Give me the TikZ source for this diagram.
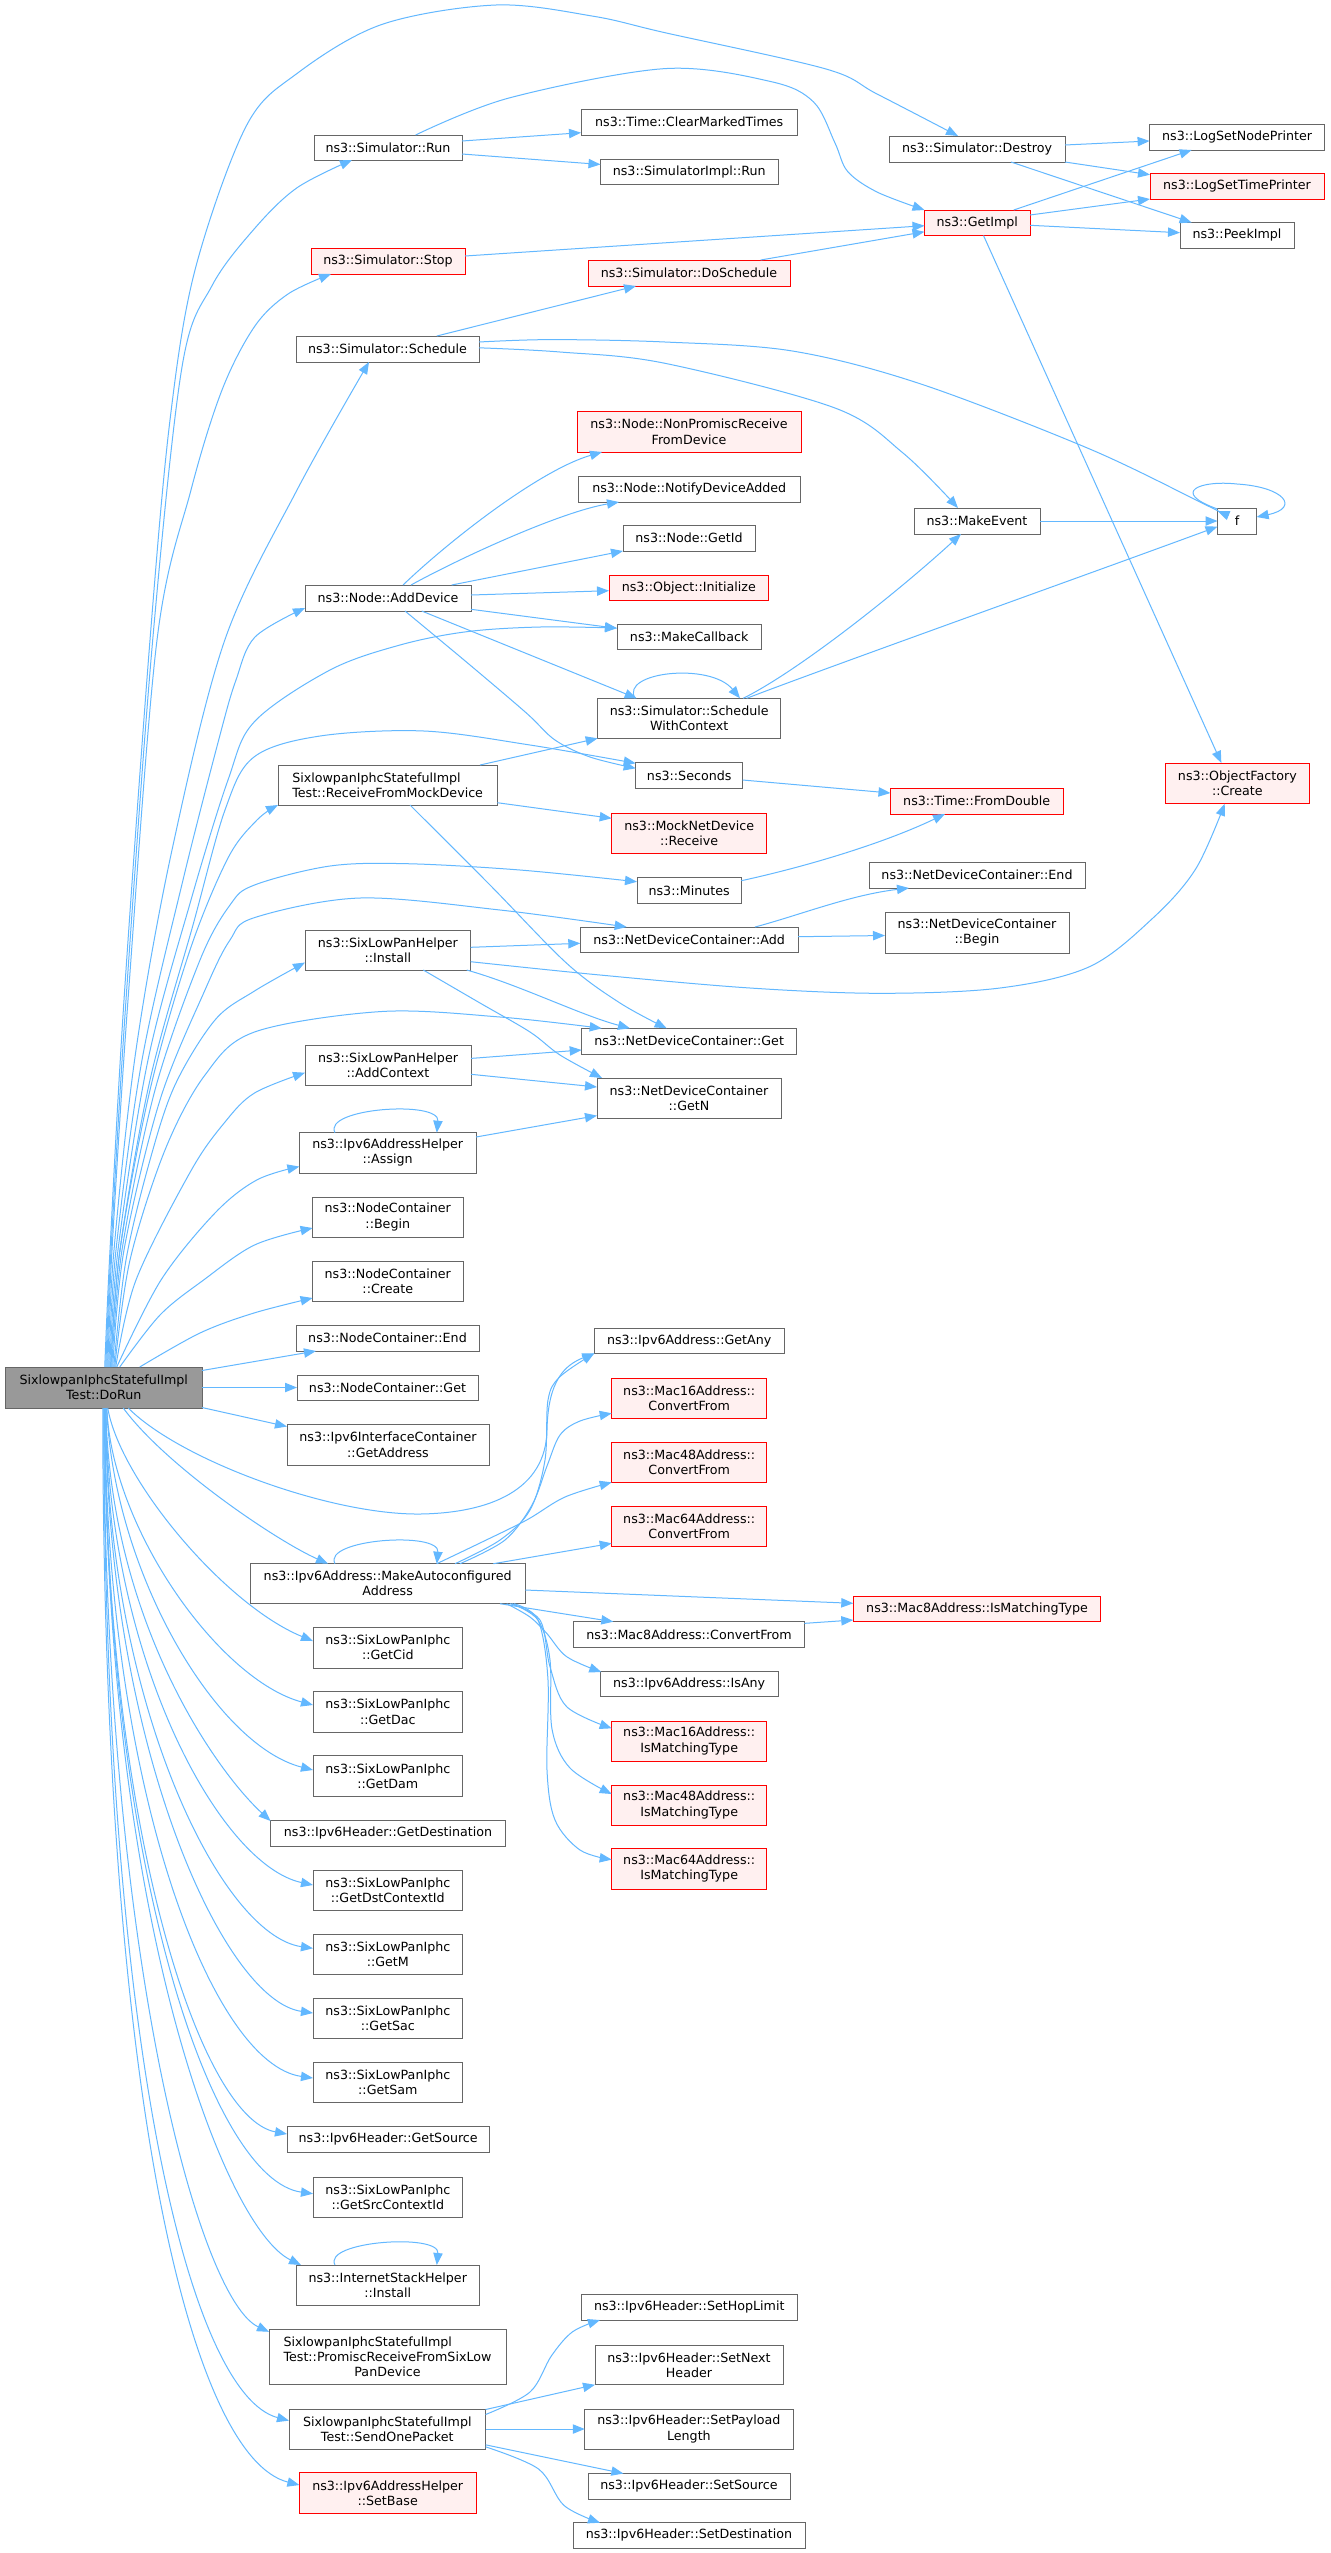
\documentclass[tikz,border=0pt]{standalone}
\usepackage{fontspec}
\setmainfont{DejaVu Sans}
\usepackage{calc}
\usetikzlibrary{arrows.meta,calc}
\definecolor{edgeblue}{HTML}{63B8FF}
\definecolor{boxgrey}{HTML}{666666}
\definecolor{redfill}{HTML}{FFF0F0}
\definecolor{rootfill}{HTML}{999999}
\tikzset{
 box/.style={draw=boxgrey, fill=white, line width=0.75pt, inner sep=0pt, outer sep=0pt, align=center, font=\fontsize{9.5}{11.3}\selectfont},
 redbox/.style={draw=red, fill=redfill},
 rootbox/.style={fill=rootfill},
 edge/.style={draw=edgeblue, line width=0.75pt, -{Triangle[length=9pt,width=7pt]}},
}
\newcommand\mkbox[7][]{%
 \pgfmathsetmacro\cxx{(#3+#5)/2}\pgfmathsetmacro\cyy{(#4+#6)/2}%
 \pgfmathsetmacro\www{(#5-#3)*0.75}\pgfmathsetmacro\hhh{(#6-#4)*0.75}%
 \node[box,#1,minimum width=\www pt,minimum height=\hhh pt] (#2) at (\cxx,\cyy) {#7};}
\begin{document}
\begin{tikzpicture}[x=0.75pt,y=-0.75pt]
\useasboundingbox (0,0) rectangle (1331,2553);
\fill[white] (0,0) rectangle (1331,2553);
% ---------------- nodes
\mkbox[rootbox]{dorun}{5.5}{1367}{202}{1408}{SixlowpanIphcStatefulImpl\\Test::DoRun}
\mkbox{destroy}{889}{136}{1065}{162}{ns3::Simulator::Destroy}
\mkbox{run}{314}{135}{462}{160}{ns3::Simulator::Run}
\mkbox{clear}{581}{109}{797.5}{135}{ns3::Time::ClearMarkedTimes}
\mkbox{simimplrun}{600.5}{159}{778}{184.5}{ns3::SimulatorImpl::Run}
\mkbox[redbox]{getimpl}{924.5}{210}{1030}{235.5}{ns3::GetImpl}
\mkbox{lognode}{1149.6}{124.5}{1324.6}{150}{ns3::LogSetNodePrinter}
\mkbox[redbox]{logtime}{1150}{173.5}{1324}{199}{ns3::LogSetTimePrinter}
\mkbox{peek}{1180}{222.5}{1294}{248}{ns3::PeekImpl}
\mkbox[redbox]{stop}{311}{248}{465}{274}{ns3::Simulator::Stop}
\mkbox[redbox]{dosched}{588}{260}{790}{286}{ns3::Simulator::DoSchedule}
\mkbox{sched}{296}{336}{479}{362}{ns3::Simulator::Schedule}
\mkbox[redbox]{nonpromisc}{577}{411.5}{801}{452}{ns3::Node::NonPromiscReceive\\FromDevice}
\mkbox{notify}{578.5}{476}{800}{502}{ns3::Node::NotifyDeviceAdded}
\mkbox{getid}{623}{525}{755}{551}{ns3::Node::GetId}
\mkbox[redbox]{init}{609}{575}{768.7}{600.7}{ns3::Object::Initialize}
\mkbox{adddev}{305}{585}{471}{611}{ns3::Node::AddDevice}
\mkbox{mkcb}{617}{624.3}{761.3}{649.7}{ns3::MakeCallback}
\mkbox{mkevent}{914}{508}{1040}{534}{ns3::MakeEvent}
\mkbox{f}{1217.5}{508}{1256.6}{534}{f}
\mkbox{swc}{597.7}{698.3}{780.7}{738.3}{ns3::Simulator::Schedule\\WithContext}
\mkbox{seconds}{635.7}{762.7}{742.7}{788.3}{ns3::Seconds}
\mkbox{rfmd}{278}{765}{497.3}{805}{\makebox[\widthof{Test::ReceiveFromMockDevice}][l]{SixlowpanIphcStatefulImpl}\\Test::ReceiveFromMockDevice}
\mkbox[redbox]{mockrecv}{611.7}{813}{766.7}{853.3}{ns3::MockNetDevice\\::Receive}
\mkbox{minutes}{637}{877.7}{741.3}{903}{ns3::Minutes}
\mkbox[redbox]{fromdouble}{890.5}{788}{1063}{814}{ns3::Time::FromDouble}
\mkbox{ndcend}{869}{862.5}{1085}{888}{ns3::NetDeviceContainer::End}
\mkbox{ndcadd}{580.3}{927}{798}{952.3}{ns3::NetDeviceContainer::Add}
\mkbox{ndcbegin}{885}{912.7}{1069}{953}{ns3::NetDeviceContainer\\::Begin}
\mkbox[redbox]{ofcreate}{1165.7}{763}{1309}{803.7}{ns3::ObjectFactory\\::Create}
\mkbox{slphinstall}{305}{930}{470.7}{970}{ns3::SixLowPanHelper\\::Install}
\mkbox{ndcget}{581.7}{1028.3}{796.7}{1054}{ns3::NetDeviceContainer::Get}
\mkbox{addctx}{305}{1045}{471}{1085}{ns3::SixLowPanHelper\\::AddContext}
\mkbox{ndcgetn}{597}{1078}{781}{1118.4}{ns3::NetDeviceContainer\\::GetN}
\mkbox{assign}{299.4}{1132.7}{476}{1173}{ns3::Ipv6AddressHelper\\::Assign}
\mkbox{ncbegin}{312.6}{1197}{463}{1237}{ns3::NodeContainer\\::Begin}
\mkbox{nccreate}{312.6}{1261}{463}{1301}{ns3::NodeContainer\\::Create}
\mkbox{ncend}{296}{1325}{479}{1351}{ns3::NodeContainer::End}
\mkbox{ncget}{297}{1375}{478}{1400}{ns3::NodeContainer::Get}
\mkbox{getaddr}{287}{1424.5}{489}{1465}{ns3::Ipv6InterfaceContainer\\::GetAddress}
\mkbox{getany}{594.3}{1328.3}{784}{1353.3}{ns3::Ipv6Address::GetAny}
\mkbox[redbox]{m16cf}{611.7}{1378.3}{766.7}{1418.3}{ns3::Mac16Address::\\ConvertFrom}
\mkbox[redbox]{m48cf}{611.7}{1442.3}{766.7}{1482.3}{ns3::Mac48Address::\\ConvertFrom}
\mkbox[redbox]{m64cf}{611.7}{1506.3}{766.7}{1546.3}{ns3::Mac64Address::\\ConvertFrom}
\mkbox{maa}{250}{1563.7}{525.3}{1603.7}{ns3::Ipv6Address::MakeAutoconfigured\\Address}
\mkbox[redbox]{m8ism}{853.3}{1596}{1100.7}{1621.7}{ns3::Mac8Address::IsMatchingType}
\mkbox{m8cf}{573.7}{1621.7}{804.3}{1647}{ns3::Mac8Address::ConvertFrom}
\mkbox{isany}{600.3}{1671}{778}{1696.3}{ns3::Ipv6Address::IsAny}
\mkbox[redbox]{m16ism}{611.7}{1721}{766.7}{1761}{ns3::Mac16Address::\\IsMatchingType}
\mkbox[redbox]{m48ism}{611.7}{1785}{766.7}{1825}{ns3::Mac48Address::\\IsMatchingType}
\mkbox[redbox]{m64ism}{611.7}{1848.6}{766.7}{1889}{ns3::Mac64Address::\\IsMatchingType}
\mkbox{getcid}{313}{1627}{462.7}{1668}{ns3::SixLowPanIphc\\::GetCid}
\mkbox{getdac}{313}{1691.5}{462.7}{1732}{ns3::SixLowPanIphc\\::GetDac}
\mkbox{getdam}{313}{1755.6}{462.7}{1796}{ns3::SixLowPanIphc\\::GetDam}
\mkbox{getdest}{270.6}{1820}{505.5}{1846}{ns3::Ipv6Header::GetDestination}
\mkbox{getdstctx}{313}{1870}{462.7}{1910.7}{ns3::SixLowPanIphc\\::GetDstContextId}
\mkbox{getm}{313}{1934}{462.7}{1974}{ns3::SixLowPanIphc\\::GetM}
\mkbox{getsac}{313}{1998}{462.7}{2038}{ns3::SixLowPanIphc\\::GetSac}
\mkbox{getsam}{313}{2062}{462.7}{2102}{ns3::SixLowPanIphc\\::GetSam}
\mkbox{getsrc}{287}{2126.7}{489.4}{2152}{ns3::Ipv6Header::GetSource}
\mkbox{getsrcctx}{313}{2177}{462.7}{2217}{ns3::SixLowPanIphc\\::GetSrcContextId}
\mkbox{ishinstall}{296.5}{2265}{479}{2305}{ns3::InternetStackHelper\\::Install}
\mkbox{promisc}{269}{2329}{506}{2384}{\makebox[\widthof{Test::PromiscReceiveFromSixLow}][l]{SixlowpanIphcStatefulImpl}\\Test::PromiscReceiveFromSixLow\\PanDevice}
\mkbox{sendone}{289}{2409}{485.6}{2449}{SixlowpanIphcStatefulImpl\\Test::SendOnePacket}
\mkbox[redbox]{setbase}{299.4}{2472.7}{476}{2513}{ns3::Ipv6AddressHelper\\::SetBase}
\mkbox{sethop}{581}{2294.6}{797.5}{2320}{ns3::Ipv6Header::SetHopLimit}
\mkbox{setnext}{595}{2345}{783}{2384.7}{ns3::Ipv6Header::SetNext\\Header}
\mkbox{setpay}{584.8}{2409}{793}{2449}{ns3::Ipv6Header::SetPayload\\Length}
\mkbox{setsrc}{588}{2473.5}{790}{2499}{ns3::Ipv6Header::SetSource}
\mkbox{setdst}{573}{2522.7}{805}{2548}{ns3::Ipv6Header::SetDestination}
% ---------------- DoRun upper fan
\draw[edge] plot[smooth,tension=0.55] coordinates {($(dorun.north)+(1,0)$) (110,1250) (124,1000) (150,640) (170,420) (195,270) (246,126.5) (297,73.5) (381.7,24.5) (496,5) (593.7,16.3) (665,32.7) (826,69) (877,94) ($(destroy.north west)+(69,0)$)};
\draw[edge] plot[smooth,tension=0.55] coordinates {($(dorun.north)+(2,0)$) (111,1250) (126,1000) (152.7,640) (182,367) (212,285.7) (254.5,228.6) (297,187.8) ($(run.south west)+(38,0)$)};
\draw[edge] plot[smooth,tension=0.55] coordinates {($(dorun.north)+(3,0)$) (112,1250) (128,1000) (157,640) (191,490) (222,390) (254.5,326.6) (288,294) ($(stop.south west)+(20,0)$)};
\draw[edge] plot[smooth,tension=0.55] coordinates {($(dorun.north)+(4,0)$) (114,1250) (136,1050) (172,850) (224.8,640) (297,490) ($(sched.south west)+(73,0)$)};
\draw[edge] plot[smooth,tension=0.55] coordinates {($(dorun.north)+(5,0)$) (116,1250) (142,1060) (183,880) (220,735) (236,680) (255,637) ($(adddev.south west)+(0,-3)$)};
\draw[edge] plot[smooth,tension=0.55] coordinates {($(dorun.north)+(6,0)$) (118,1250) (148,1060) (191,900) (228,780) (254.5,721.6) (330,670) (400,645) (466.7,631.7) (540,627) ($(mkcb.west)+(0,-9)$)};
\draw[edge] plot[smooth,tension=0.55] coordinates {($(dorun.north)+(7,0)$) (120,1250) (150,1080) (193,925) (225,810) (254,757) (320,736) (424,731) (530,745) ($(seconds.west)+(0,-12.2)$)};
\draw[edge] plot[smooth,tension=0.55] coordinates {($(dorun.north)+(7,0)$) (120,1250) (150,1090) (190,950) (228,858) (257,820) (rfmd.south west)};
\draw[edge] plot[smooth,tension=0.55] coordinates {($(dorun.north)+(8,0)$) (122,1250) (155,1090) (200,960) (230,905) (254.5,885) (330,866) (407,863.7) (520,870) ($(minutes.west)+(0,-8.6)$)};
\draw[edge] plot[smooth,tension=0.55] coordinates {($(dorun.north)+(9,0)$) (124,1250) (160,1100) (205,990) (230,940) (254.5,917.6) (360,898) (500,910) ($(ndcadd.north west)+(46.4,0)$)};
\draw[edge] plot[smooth,tension=0.55] coordinates {($(dorun.north)+(10,0)$) (126,1260) (150,1160) (175,1085) (215,1020) (254.5,991) ($(slphinstall.west)+(0,12.5)$)};
\draw[edge] plot[smooth,tension=0.55] coordinates {($(dorun.north)+(11,0)$) (130,1260) (165,1150) (205,1075) (254.5,1032) (381.7,1011.5) (500,1017) ($(ndcget.north west)+(20,0)$)};
\draw[edge] plot[smooth,tension=0.55] coordinates {($(dorun.north)+(12,0)$) (136,1280) (191,1170.7) (225,1122) (254.5,1093) ($(addctx.west)+(0,7.7)$)};
\draw[edge] plot[smooth,tension=0.55] coordinates {($(dorun.north)+(13,0)$) (161,1280) (215,1213) (256.7,1180) ($(assign.west)+(0,13.7)$)};
\draw[edge] plot[smooth,tension=0.55] coordinates {($(dorun.north)+(16,0)$) (160,1315) (203.6,1280) (254.5,1245) ($(ncbegin.west)+(0,11)$)};
\draw[edge] plot[smooth,tension=0.55] coordinates {($(dorun.north)+(36,0)$) (200,1333) (254,1313) ($(nccreate.west)+(0,17)$)};
% ---------------- DoRun right
\draw[edge] ($(dorun.east)+(0,-17)$) -- ($(ncend.south west)+(20,0)$);
\draw[edge] (dorun.east) -- (ncget.west);
\draw[edge] ($(dorun.east)+(0,20)$) -- ($(getaddr.north west)+(0,2)$);
% ---------------- DoRun lower fan
\draw[edge] ($(dorun.south)+(24.5,0)$) .. controls (180,1460) and (330,1515) .. (420,1514) .. controls (490,1513) and (546,1490) .. (547,1430) .. controls (548,1380) and (565,1365) .. (getany.south west);
\draw[edge] ($(dorun.south)+(19.5,0)$) .. controls (165,1465) and (275,1540) .. ($(maa.north west)+(78,0)$);
\draw[edge] ($(dorun.south)+(4,0)$) .. controls (120,1480) and (225,1605) .. ($(getcid.west)+(0,-6.5)$);
\draw[edge] ($(dorun.south)+(3,0)$) .. controls (112,1530) and (220,1680) .. ($(getdac.west)+(0,-6.75)$);
\draw[edge] ($(dorun.south)+(3,0)$) .. controls (113,1570) and (215,1745) .. ($(getdam.west)+(0,-5.8)$);
\draw[edge] ($(dorun.south)+(2,0)$) .. controls (110,1620) and (215,1770) .. ($(getdest.north west)+(0,1)$);
\draw[edge] ($(dorun.south)+(2,0)$) .. controls (108,1660) and (220,1865) .. ($(getdstctx.west)+(0,-5.35)$);
\draw[edge] ($(dorun.south)+(2,0)$) .. controls (106,1700) and (220,1935) .. ($(getm.west)+(0,-5.7)$);
\draw[edge] ($(dorun.south)+(2,0)$) .. controls (106,1740) and (222,2000) .. ($(getsac.west)+(0,-5)$);
\draw[edge] ($(dorun.south)+(1,0)$) .. controls (106,1790) and (212,2064) .. ($(getsam.west)+(0,-4)$);
\draw[edge] ($(dorun.south)+(1,0)$) .. controls (105,1830) and (200,2118) .. ($(getsrc.west)+(0,-5.35)$);
\draw[edge] ($(dorun.south)+(1,0)$) .. controls (105,1870) and (212,2180) .. ($(getsrcctx.west)+(0,-3.3)$);
\draw[edge] ($(dorun.south)+(1,0)$) .. controls (105,1920) and (225,2228) .. ($(ishinstall.north west)+(4.5,0)$);
\draw[edge] (dorun.south) .. controls (104,1960) and (200,2300) .. ($(promisc.north west)+(0,2.8)$);
\draw[edge] (dorun.south) .. controls (104,2060) and (192,2395) .. ($(sendone.west)+(0,-8.4)$);
\draw[edge] ($(dorun.south)+(-1,0)$) .. controls (103,2110) and (193,2458) .. ($(setbase.west)+(0,-7.85)$);
% ---------------- Simulator part
\draw[edge] ($(run.east)+(0,-6.5)$) -- ($(clear.west)+(0,10.7)$);
\draw[edge] ($(run.east)+(0,6.5)$) -- ($(simimplrun.west)+(0,-7.3)$);
\draw[edge] plot[smooth,tension=0.55] coordinates {($(run.north)+(27.6,0)$) (509,98) (665,68.6) (771,81.6) (813.6,102) (835,143) (847.6,171.4) (877,192) (getimpl.north west)};
\draw[edge] ($(stop.east)+(0,-5)$) -- ($(getimpl.west)+(0,2.95)$);
\draw[edge] ($(dosched.north)+(71.6,0)$) -- ($(getimpl.west)+(0,9)$);
\draw[edge] ($(sched.north)+(49.3,0)$) -- ($(dosched.south west)+(48,0)$);
\draw[edge] plot[smooth,tension=0.55] coordinates {($(sched.east)+(0,-7)$) (551,339.6) (665,342) (792.4,351) (920,383.7) (1089.7,449) (1204,504) ($(f.west)+(0,-10)$)};
\draw[edge] plot[smooth,tension=0.55] coordinates {($(sched.east)+(0,-1.2)$) (560,352) (665,363.3) (835,408) (903,453) ($(mkevent.north)+(-19,0)$)};
\draw[edge] (mkevent.east) -- (f.west);
\draw[edge] ($(f.north west)+(0,1)$) .. controls (1170,492) and (1200,480) .. (1237,484) .. controls (1285,487) and (1300,508) .. ($(f.east)+(0,-4)$);
\draw[edge] ($(getimpl.north)+(36.45,0)$) -- ($(lognode.south west)+(42,0)$);
\draw[edge] ($(getimpl.east)+(0,-7.75)$) -- (logtime.south west);
\draw[edge] ($(getimpl.east)+(0,2.55)$) -- ($(peek.west)+(0,-2.55)$);
\draw[edge] ($(getimpl.south)+(6.25,0)$) -- ($(ofcreate.north)+(-16,0)$);
\draw[edge] ($(destroy.east)+(0,-4)$) -- ($(lognode.west)+(0,3.75)$);
\draw[edge] (destroy.south east) -- ($(logtime.north west)+(0,1.2)$);
\draw[edge] ($(destroy.south)+(34,0)$) -- ($(peek.north west)+(11.6,0)$);
% ---------------- AddDevice
\draw[edge] ($(adddev.north)+(15,0)$) .. controls (450,540) and (540,470) .. ($(nonpromisc.south west)+(25,0)$);
\draw[edge] ($(adddev.north)+(23,0)$) .. controls (460,558) and (560,512) .. ($(notify.south west)+(40.5,0)$);
\draw[edge] ($(adddev.north)+(63.7,0)$) -- (getid.south west);
\draw[edge] ($(adddev.east)+(0,-3)$) -- ($(init.west)+(0,2.85)$);
\draw[edge] ($(adddev.east)+(0,11.3)$) -- ($(mkcb.west)+(0,-8.7)$);
\draw[edge] ($(adddev.south)+(33.7,0)$) -- ($(swc.north west)+(39,0)$);
\draw[edge] plot[smooth,tension=0.55] coordinates {($(adddev.south)+(17,0)$) (470,665) (526.7,713.3) (555,740) (590,757) ($(seconds.west)+(0,-7.2)$)};
% ---------------- ScheduleWithContext
\draw[edge] ($(swc.north west)+(37.3,0)$) .. controls (620,672) and (710,662) .. ($(swc.north)+(50.8,0)$);
\draw[edge] ($(swc.north)+(54,0)$) .. controls (800,670) and (900,590) .. ($(mkevent.south)+(-16,0)$);
\draw[edge] ($(swc.north)+(57.5,0)$) .. controls (820,670) and (1100,570) .. ($(f.west)+(0,5.6)$);
% ---------------- ReceiveFromMockDevice
\draw[edge] ($(rfmd.north)+(92.4,0)$) -- (swc.south west);
\draw[edge] ($(rfmd.east)+(0,17.7)$) -- ($(mockrecv.west)+(0,-14.85)$);
\draw[edge] plot[smooth,tension=0.55] coordinates {($(rfmd.south)+(22.35,0)$) (490,885) (566.7,963.3) (620,1003) ($(ndcget.north west)+(85,0)$)};
\draw[edge] ($(seconds.east)+(0,4.5)$) -- ($(fromdouble.west)+(0,-8)$);
\draw[edge] ($(minutes.east)+(0,-9.65)$) .. controls (800,868) and (880,845) .. ($(fromdouble.south west)+(54.5,0)$);
\draw[edge] ($(ndcadd.north)+(65.85,0)$) .. controls (800,915) and (850,895) .. ($(ndcend.south west)+(40,0)$);
\draw[edge] ($(ndcadd.east)+(0,-2.95)$) -- ($(ndcbegin.west)+(0,2.65)$);
% ---------------- SixLowPanHelper
\draw[edge] ($(slphinstall.east)+(0,-2.7)$) -- ($(ndcadd.west)+(0,3.65)$);
\draw[edge] plot[smooth,tension=0.55] coordinates {($(slphinstall.east)+(0,11.7)$) (600,975) (750,988) (880,993.3) (1000,988) (1089.7,966.6) (1153.4,917.6) (1195.9,868.6) ($(ofcreate.south)+(-12.65,0)$)};
\draw[edge] ($(slphinstall.south east)+(-4,0)$) .. controls (520,985) and (580,1015) .. ($(ndcget.north west)+(48.3,0)$);
\draw[edge] plot[smooth,tension=0.55] coordinates {($(slphinstall.south)+(35.45,0)$) (480,1003) (530,1032) (560,1055) ($(ndcgetn.north west)+(5,0)$)};
\draw[edge] ($(addctx.east)+(0,-6.6)$) -- ($(ndcget.west)+(0,8.85)$);
\draw[edge] ($(addctx.east)+(0,9.3)$) -- ($(ndcgetn.west)+(0,-11.2)$);
\draw[edge] ($(assign.east)+(0,-15.85)$) -- ($(ndcgetn.west)+(0,17.4)$);
\draw[edge] ($(assign.north west)+(35.6,0)$) .. controls (322,1108) and (440,1100) .. ($(assign.north)+(49.1,0)$);
% ---------------- MakeAutoconfiguredAddress
\draw[edge] ($(maa.north west)+(85,0)$) .. controls (322,1539) and (440,1531) .. ($(maa.north west)+(186.8,0)$);
\draw[edge] plot[smooth,tension=0.55] coordinates {($(maa.north west)+(205,0)$) (500,1540) (530,1510) (545,1460) (548,1400) (560,1376.7) (getany.south west)};
\draw[edge] plot[smooth,tension=0.55] coordinates {($(maa.north west)+(210,0)$) (505,1540) (532,1505) (547,1466) (560,1435) (580,1421) ($(m16cf.west)+(0,15)$)};
\draw[edge] plot[smooth,tension=0.55] coordinates {($(maa.north west)+(186.7,0)$) (480,1543) (526.7,1520) (565,1497) (m48cf.south west)};
\draw[edge] ($(maa.north west)+(243.3,0)$) -- ($(m64cf.west)+(0,17)$);
\draw[edge] ($(maa.east)+(0,6.3)$) -- ($(m8ism.west)+(0,-5.55)$);
\draw[edge] ($(m8cf.east)+(0,-11)$) -- ($(m8ism.west)+(0,11.15)$);
\draw[edge] ($(maa.south west)+(250,0)$) -- ($(m8cf.north west)+(39.6,0)$);
\draw[edge] plot[smooth,tension=0.55] coordinates {($(maa.south west)+(256.7,0)$) (530,1617) (546.7,1633.3) (566.7,1656.7) ($(isany.north west)+(1,1)$)};
\draw[edge] plot[smooth,tension=0.55] coordinates {($(maa.south west)+(260,0)$) (540,1620) (550,1666.7) (566.7,1706.7) ($(m16ism.west)+(0,-12.7)$)};
\draw[edge] plot[smooth,tension=0.55] coordinates {($(maa.south west)+(262,0)$) (538,1620) (550,1660) (552,1729) (570,1768) ($(m48ism.west)+(0,-11)$)};
\draw[edge] plot[smooth,tension=0.55] coordinates {($(maa.south west)+(264,0)$) (538,1620) (548,1680) (547,1770) (555,1820) (580,1850) ($(m64ism.west)+(0,-9.2)$)};
% ---------------- InternetStackHelper and SendOnePacket
\draw[edge] ($(ishinstall.north west)+(38.5,0)$) .. controls (322,2241) and (440,2233) .. ($(ishinstall.north west)+(140.3,0)$);
\draw[edge] plot[smooth,tension=0.55] coordinates {($(sendone.east)+(0,-14.5)$) (530,2392) (551.3,2356) (572.5,2331.8) ($(sethop.south west)+(19,0)$)};
\draw[edge] ($(sendone.north east)+(0,0.5)$) -- (setnext.south west);
\draw[edge] (sendone.east) -- (setpay.west);
\draw[edge] ($(sendone.east)+(0,15.8)$) -- ($(setsrc.north west)+(35.4,0)$);
\draw[edge] plot[smooth,tension=0.55] coordinates {($(sendone.east)+(0,17.8)$) (538.6,2469) (564,2505.4) ($(setdst.north west)+(27,0)$)};
\end{tikzpicture}
\end{document}
